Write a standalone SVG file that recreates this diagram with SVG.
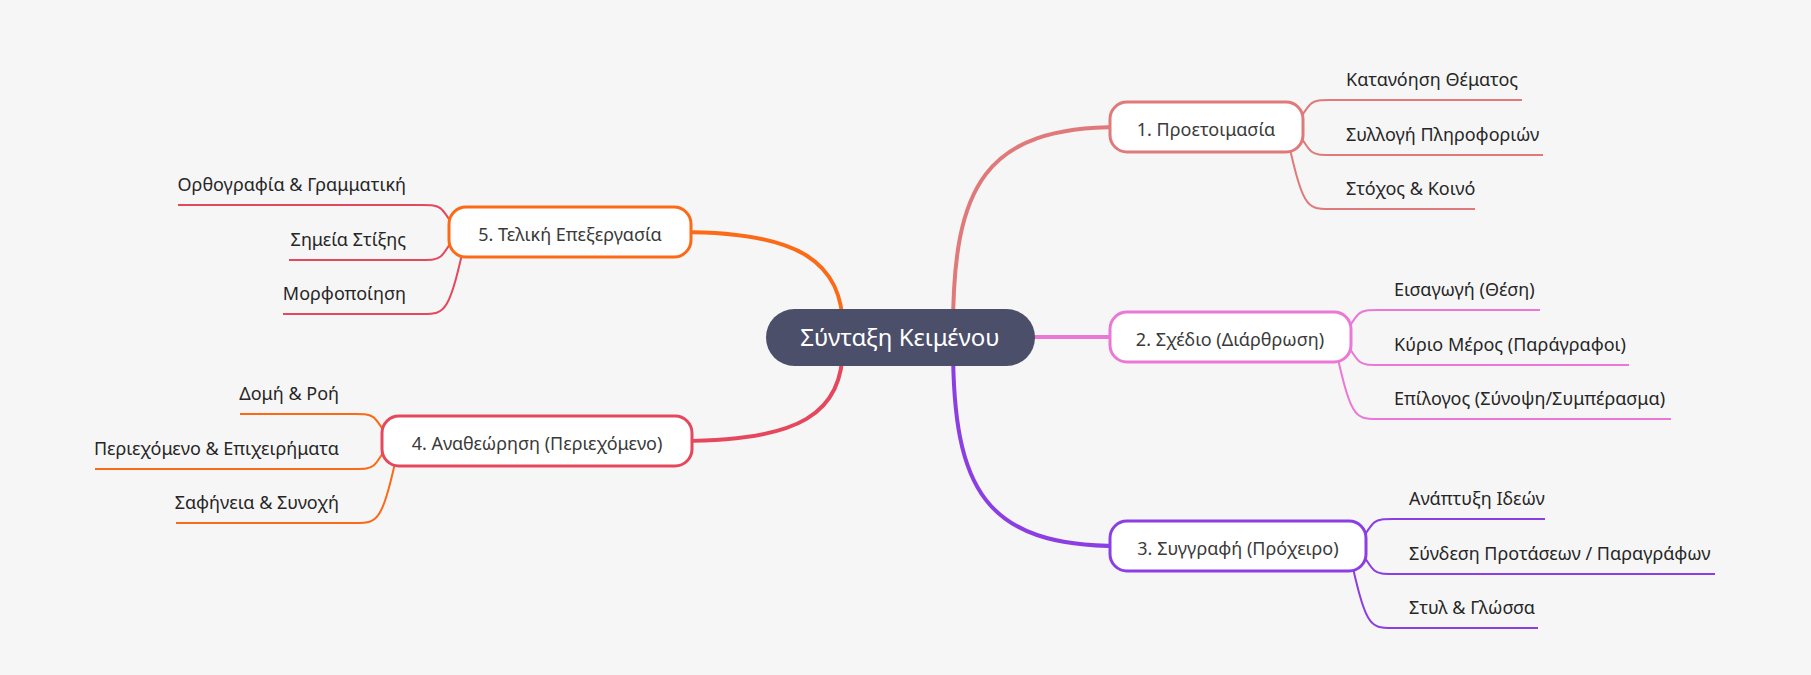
<svg xmlns="http://www.w3.org/2000/svg" width="1811" height="675" viewBox="0 0 1811 675">
<style>
text{font-family:"Noto Sans","DejaVu Sans",sans-serif}
.node{fill:#fff;stroke-width:3}
.nt{font-size:18px;fill:#3a3a3a;text-anchor:middle}
.ct{font-size:18px;fill:#262626}
.ce{font-size:18px;fill:#262626;text-anchor:end}
.main{fill:none;stroke-width:4;stroke-linecap:round}
.sub{fill:none;stroke-width:2}
.b1{stroke:#e07a7a}.b2{stroke:#ea78d6}.b3{stroke:#8b3fe3}.b4{stroke:#e5485c}.b5{stroke:#fb6a17}
</style>
<rect width="1811" height="675" fill="#f6f6f6"/>
<g id="connectors">
<path class="main b1" d="M953,330 C953,185 985,127 1120,127"/>
<path class="main b2" d="M1000,337 L1120,337"/>
<path class="main b3" d="M953,345 C953,490 985,546 1120,546"/>
<path class="main b5" d="M843,330 C843,262 800,232 680,232"/>
<path class="main b4" d="M843,345 C843,414 800,441 680,441"/>
<path class="sub b1" d="M1295,127 C1311,100 1311,100 1330,100 L1522,100"/>
<path class="sub b1" d="M1295,127 C1311,155 1311,155 1330,155 L1543,155"/>
<path class="sub b1" d="M1285,127 C1303,209 1306,209 1330,209 L1475,209"/>
<path class="sub b2" d="M1343,337 C1359,310 1359,310 1378,310 L1540,310"/>
<path class="sub b2" d="M1343,337 C1359,365 1359,365 1378,365 L1629,365"/>
<path class="sub b2" d="M1333,337 C1351,419 1354,419 1378,419 L1671,419"/>
<path class="sub b3" d="M1358,546 C1374,519 1374,519 1393,519 L1545,519"/>
<path class="sub b3" d="M1358,546 C1374,574 1374,574 1393,574 L1715,574"/>
<path class="sub b3" d="M1348,546 C1366,628 1369,628 1393,628 L1538,628"/>
<path class="sub b4" d="M457,232 C441,205 441,205 422,205 L178,205"/>
<path class="sub b4" d="M457,232 C441,260 441,260 422,260 L289,260"/>
<path class="sub b4" d="M467,232 C449,314 446,314 422,314 L283,314"/>
<path class="sub b5" d="M390,441 C374,414 374,414 355,414 L240,414"/>
<path class="sub b5" d="M390,441 C374,469 374,469 355,469 L95,469"/>
<path class="sub b5" d="M400,441 C382,523 379,523 355,523 L176,523"/>
</g>
<g id="center">
<rect x="766" y="309" width="269" height="57" rx="28.5" fill="#4b4f6a"/>
<text x="900" y="346" font-size="24" fill="#fff" text-anchor="middle">Σύνταξη Κειμένου</text>
</g>
<g id="n1">
<rect class="node b1" x="1110" y="102" width="193" height="50" rx="17"/>
<text class="nt" x="1206" y="135.5">1. Προετοιμασία</text>
</g>
<g id="n1c1"><text class="ct" x="1346" y="86">Κατανόηση Θέματος</text></g>
<g id="n1c2"><text class="ct" x="1346" y="141">Συλλογή Πληροφοριών</text></g>
<g id="n1c3"><text class="ct" x="1346" y="195">Στόχος &amp; Κοινό</text></g>
<g id="n2">
<rect class="node b2" x="1110" y="312" width="241" height="50" rx="17"/>
<text class="nt" x="1230" y="345.5">2. Σχέδιο (Διάρθρωση)</text>
</g>
<g id="n2c1"><text class="ct" x="1394" y="296">Εισαγωγή (Θέση)</text></g>
<g id="n2c2"><text class="ct" x="1394" y="351">Κύριο Μέρος (Παράγραφοι)</text></g>
<g id="n2c3"><text class="ct" x="1394" y="405">Επίλογος (Σύνοψη/Συμπέρασμα)</text></g>
<g id="n3">
<rect class="node b3" x="1110" y="521" width="256" height="50" rx="17"/>
<text class="nt" x="1238" y="554.5">3. Συγγραφή (Πρόχειρο)</text>
</g>
<g id="n3c1"><text class="ct" x="1409" y="505">Ανάπτυξη Ιδεών</text></g>
<g id="n3c2"><text class="ct" x="1409" y="560">Σύνδεση Προτάσεων / Παραγράφων</text></g>
<g id="n3c3"><text class="ct" x="1409" y="614">Στυλ &amp; Γλώσσα</text></g>
<g id="n5">
<rect class="node b5" x="449" y="207" width="242" height="50" rx="17"/>
<text class="nt" x="570" y="240.5">5. Τελική Επεξεργασία</text>
</g>
<g id="n5c1"><text class="ce" x="406" y="191">Ορθογραφία &amp; Γραμματική</text></g>
<g id="n5c2"><text class="ce" x="406" y="246">Σημεία Στίξης</text></g>
<g id="n5c3"><text class="ce" x="406" y="300">Μορφοποίηση</text></g>
<g id="n4">
<rect class="node b4" x="382" y="416" width="310" height="50" rx="17"/>
<text class="nt" x="537" y="449.5">4. Αναθεώρηση (Περιεχόμενο)</text>
</g>
<g id="n4c1"><text class="ce" x="339" y="400">Δομή &amp; Ροή</text></g>
<g id="n4c2"><text class="ce" x="339" y="455">Περιεχόμενο &amp; Επιχειρήματα</text></g>
<g id="n4c3"><text class="ce" x="339" y="509">Σαφήνεια &amp; Συνοχή</text></g>
</svg>
